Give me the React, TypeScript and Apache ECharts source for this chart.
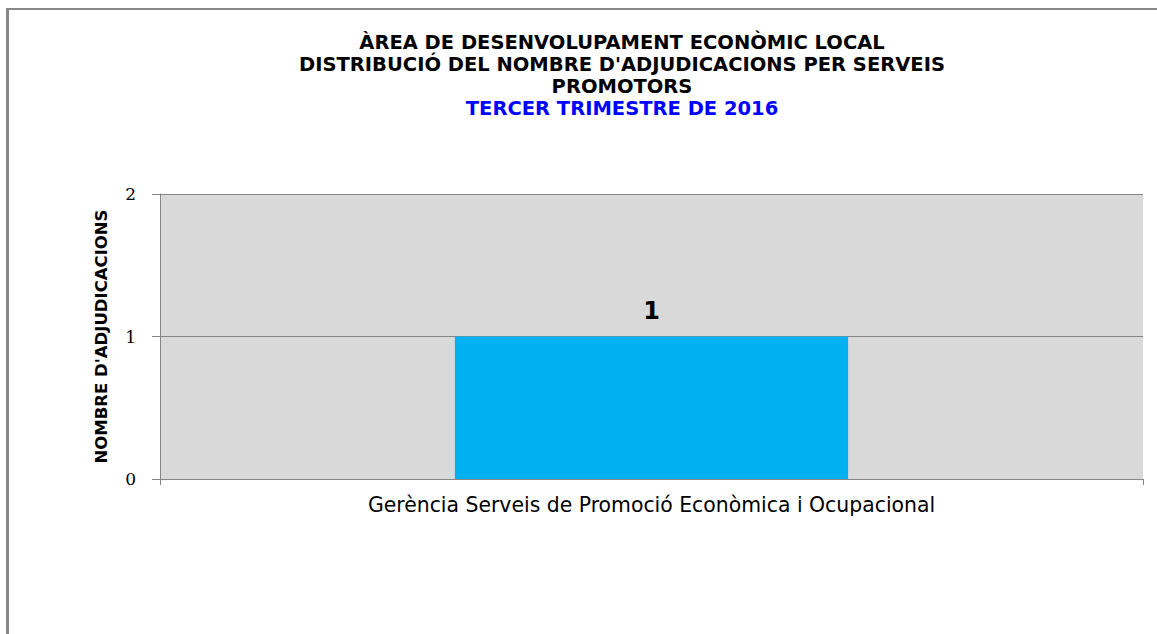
import React, { useEffect, useRef } from "react";
import * as echarts from "echarts";

const categories = ["Gerència Serveis de Promoció Econòmica i Ocupacional"];
const values = [1];
const titleLines = [
  "ÀREA DE DESENVOLUPAMENT ECONÒMIC LOCAL",
  "DISTRIBUCIÓ DEL NOMBRE D'ADJUDICACIONS PER SERVEIS",
  "PROMOTORS",
];
const subtitle = "TERCER TRIMESTRE DE 2016";
const yAxisName = "NOMBRE D'ADJUDICACIONS";

export default function App() {
  const ref = useRef<HTMLDivElement>(null);
  useEffect(() => {
    document.body.style.margin = "0";
    const chart = echarts.init(ref.current!, null, { renderer: "svg" });
    chart.setOption({
      animation: false,
      backgroundColor: "#ffffff",
      title: [
        {
          text: titleLines.join("\n"),
          left: 622,
          top: 31,
          textAlign: "center",
          padding: 0,
          textStyle: {
            fontFamily: "DejaVu Sans",
            fontWeight: "bold",
            fontSize: 19.5,
            lineHeight: 22,
            color: "#000000",
          },
        },
        {
          text: subtitle,
          left: 622,
          top: 97,
          textAlign: "center",
          padding: 0,
          textStyle: {
            fontFamily: "DejaVu Sans",
            fontWeight: "bold",
            fontSize: 19.5,
            lineHeight: 22,
            color: "#0000ff",
          },
        },
      ],
      graphic: [
        {
          type: "line",
          shape: { x1: 7.5, y1: 9, x2: 7.5, y2: 634 },
          style: { stroke: "#888888", lineWidth: 3 },
        },
        {
          type: "line",
          shape: { x1: 6, y1: 9, x2: 1157, y2: 9 },
          style: { stroke: "#888888", lineWidth: 2 },
        },
      ],
      grid: {
        left: 160,
        right: 14,
        top: 194,
        bottom: 155,
        show: true,
        backgroundColor: "#d9d9d9",
        borderWidth: 0,
      },
      xAxis: {
        type: "category",
        data: categories,
        axisLine: { show: true, lineStyle: { color: "#868686", width: 1 } },
        axisTick: { show: true, length: 6, lineStyle: { color: "#868686" } },
        axisLabel: {
          fontFamily: "DejaVu Sans",
          fontSize: 20.4,
          color: "#000000",
          margin: 16,
        },
      },
      yAxis: {
        type: "value",
        min: 0,
        max: 2,
        interval: 1,
        name: yAxisName,
        nameLocation: "middle",
        nameGap: 50,
        nameTextStyle: {
          fontFamily: "DejaVu Sans",
          fontWeight: "bold",
          fontSize: 16.5,
          color: "#000000",
        },
        axisLine: { show: true, lineStyle: { color: "#868686", width: 1 } },
        axisTick: { show: true, length: 8, lineStyle: { color: "#868686" } },
        splitLine: { show: true, lineStyle: { color: "#868686", width: 1 } },
        axisLabel: {
          fontFamily: "DejaVu Serif",
          fontSize: 17,
          color: "#000000",
          margin: 24,
        },
      },
      series: [
        {
          type: "bar",
          data: values,
          barWidth: "40%",
          itemStyle: { color: "#00b0f0" },
          label: {
            show: true,
            position: "top",
            distance: 14,
            fontFamily: "DejaVu Sans",
            fontWeight: "bold",
            fontSize: 24,
            color: "#000000",
          },
        },
      ],
    });
    return () => chart.dispose();
  }, []);
  return <div ref={ref} style={{ width: 1157, height: 634 }} />;
}
